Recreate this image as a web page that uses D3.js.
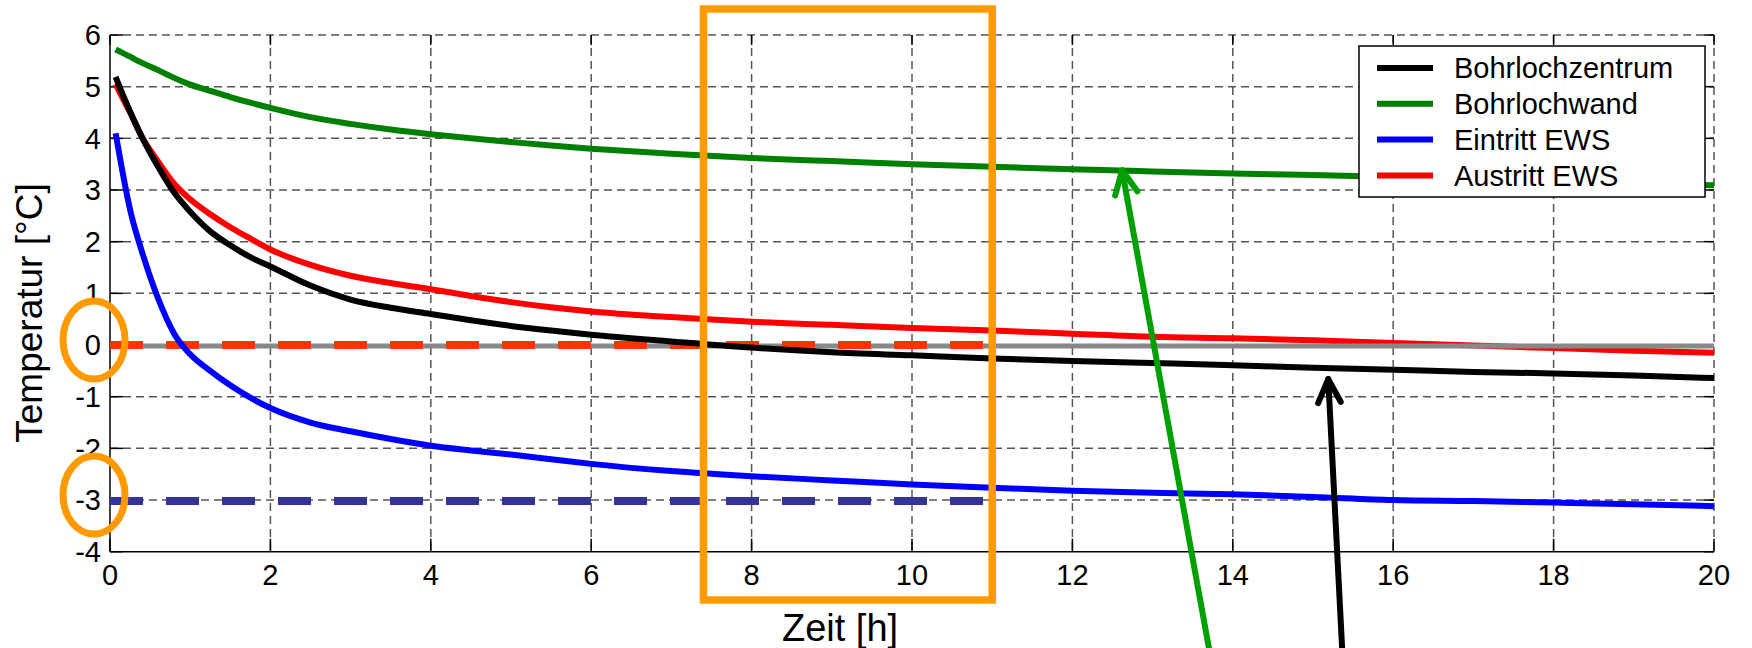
<!DOCTYPE html>
<meta charset="utf-8">
<style>
body { margin: 0; background: #fff; }
svg { display: block; font-family: "Liberation Sans", Arial, sans-serif; }
.grid line { stroke: #555; stroke-width: 1.5; stroke-dasharray: 8,5; }
.tick-label { font-size: 29px; fill: #000; }
</style>
<svg width="1752" height="648"></svg>
<script src="https://cdn.jsdelivr.net/npm/d3@7"></script>
<script>

// time in hours
var hours = [0.07, 0.15, 0.25, 0.4, 0.6, 0.8, 1, 1.25, 1.5, 1.75, 2, 2.5, 3, 3.5, 4, 4.5, 5, 5.5, 6,
             7, 8, 9, 10, 11, 12, 13, 14, 15, 16, 17, 18, 19, 20];

var bohrlochzentrum = [5.19, 4.88, 4.52, 4.02, 3.45, 2.95, 2.58, 2.2, 1.93, 1.7, 1.52, 1.15, 0.88, 0.72, 0.6, 0.48, 0.37, 0.28, 0.2,
                       0.07, -0.05, -0.14, -0.2, -0.26, -0.31, -0.35, -0.39, -0.44, -0.48, -0.52, -0.55, -0.59, -0.64];
var bohrlochwand = [5.72, 5.66, 5.58, 5.46, 5.32, 5.17, 5.04, 4.92, 4.8, 4.69, 4.59, 4.41, 4.28, 4.17, 4.08, 4.0, 3.93, 3.86, 3.8,
                    3.7, 3.62, 3.56, 3.5, 3.45, 3.4, 3.36, 3.32, 3.29, 3.25, 3.22, 3.18, 3.14, 3.09];
var eintritt = [4.1, 3.4, 2.62, 1.8, 0.9, 0.22, -0.18, -0.5, -0.78, -1.02, -1.22, -1.5, -1.67, -1.82, -1.95, -2.04, -2.12, -2.21, -2.3,
                -2.44, -2.54, -2.62, -2.7, -2.76, -2.82, -2.86, -2.89, -2.94, -3.0, -3.02, -3.05, -3.08, -3.12];
var austritt = [5.05, 4.8, 4.5, 4.02, 3.55, 3.12, 2.82, 2.53, 2.28, 2.06, 1.85, 1.55, 1.34, 1.2, 1.08, 0.95, 0.83, 0.73, 0.65,
                0.54, 0.45, 0.39, 0.33, 0.28, 0.22, 0.16, 0.13, 0.09, 0.04, -0.01, -0.06, -0.11, -0.15];

var seriesNames = ["Bohrlochzentrum", "Bohrlochwand", "Eintritt EWS", "Austritt EWS"];
var seriesColors = ["#000000", "#008000", "#0000ff", "#ff0000"];
var seriesValues = [bohrlochzentrum, bohrlochwand, eintritt, austritt];

var xTicks = [0, 2, 4, 6, 8, 10, 12, 14, 16, 18, 20];
var yTicks = [-4, -3, -2, -1, 0, 1, 2, 3, 4, 5, 6];

// marked limits (0 °C and -3 °C) and the marked time window
var limitRed = 0, limitBlue = -3, limitEnd = 10.9;
var windowStart = 7.4, windowEnd = 11.0;

var svg = d3.select("svg");

var x = d3.scaleLinear().domain([0, 20]).range([110, 1714]);
var y = d3.scaleLinear().domain([-4, 6]).range([551.7, 35]);

// grid (dashed, also forms top and right border)
var grid = svg.append("g").attr("class", "grid");
grid.selectAll(".gx").data(xTicks.slice(1)).enter().append("line")
    .attr("x1", function(d) { return x(d); }).attr("x2", function(d) { return x(d); })
    .attr("y1", y(6)).attr("y2", y(-4));
grid.selectAll(".gy").data(yTicks.slice(1)).enter().append("line")
    .attr("x1", x(0)).attr("x2", x(20))
    .attr("y1", function(d) { return y(d); }).attr("y2", function(d) { return y(d); });

// axes: solid left and bottom, ticks inward on all sides
var ax = svg.append("g").attr("stroke", "#000").attr("stroke-width", 1.5);
ax.append("line").attr("x1", x(0)).attr("x2", x(0)).attr("y1", y(6)).attr("y2", y(-4));
ax.append("line").attr("x1", x(0)).attr("x2", x(20)).attr("y1", y(-4)).attr("y2", y(-4));
xTicks.forEach(function(t) {
  ax.append("line").attr("x1", x(t)).attr("x2", x(t)).attr("y1", y(-4)).attr("y2", y(-4) - 13);
  ax.append("line").attr("x1", x(t)).attr("x2", x(t)).attr("y1", y(6)).attr("y2", y(6) + 10);
});
yTicks.forEach(function(v) {
  ax.append("line").attr("x1", x(0)).attr("x2", x(0) + 13).attr("y1", y(v)).attr("y2", y(v));
  ax.append("line").attr("x1", x(20)).attr("x2", x(20) - 10).attr("y1", y(v)).attr("y2", y(v));
});

svg.append("g").selectAll("text").data(xTicks).enter().append("text")
    .attr("class", "tick-label")
    .attr("x", function(d) { return x(d); })
    .attr("y", 585)
    .attr("text-anchor", "middle")
    .text(function(d) { return d; });
svg.append("g").selectAll("text").data(yTicks).enter().append("text")
    .attr("class", "tick-label")
    .attr("x", 101)
    .attr("y", function(d) { return y(d); })
    .attr("dy", "0.36em")
    .attr("text-anchor", "end")
    .text(function(d) { return d; });

svg.append("text")
    .attr("x", 840).attr("y", 641)
    .attr("text-anchor", "middle")
    .attr("font-size", 38)
    .text("Zeit [h]");
svg.append("text")
    .attr("transform", "translate(42,313) rotate(-90)")
    .attr("text-anchor", "middle")
    .attr("font-size", 37)
    .text("Temperatur [°C]");

var line = d3.line().curve(d3.curveMonotoneX)
    .x(function(d, i) { return x(hours[i]); })
    .y(function(d) { return y(d); });

function drawSeries(k) {
  svg.append("path")
      .datum(seriesValues[k])
      .attr("fill", "none")
      .attr("stroke", seriesColors[k])
      .attr("stroke-width", 6)
      .attr("stroke-linejoin", "round")
      .attr("d", line);
}

drawSeries(3);

// zero line
svg.append("line")
    .attr("x1", x(0)).attr("x2", x(20))
    .attr("y1", y(0) + 1).attr("y2", y(0) + 1)
    .attr("stroke", "#888").attr("stroke-width", 5);

// dashed limits
svg.append("line")
    .attr("x1", x(0)).attr("x2", x(limitEnd))
    .attr("y1", y(limitRed)).attr("y2", y(limitRed))
    .attr("stroke", "#ff3300").attr("stroke-width", 8).attr("stroke-dasharray", "33,23");
svg.append("line")
    .attr("x1", x(0)).attr("x2", x(limitEnd))
    .attr("y1", y(limitBlue) + 1).attr("y2", y(limitBlue) + 1)
    .attr("stroke", "#333399").attr("stroke-width", 8).attr("stroke-dasharray", "33,23");

drawSeries(0);
drawSeries(1);
drawSeries(2);

// legend
var lg = svg.append("g").attr("transform", "translate(1359,46)");
lg.append("rect").attr("width", 346).attr("height", 151)
    .attr("fill", "#fff").attr("stroke", "#000").attr("stroke-width", 1.5);
seriesNames.forEach(function(name, i) {
  var ry = 22 + i * 35.8;
  lg.append("line").attr("x1", 18).attr("x2", 74).attr("y1", ry).attr("y2", ry)
      .attr("stroke", seriesColors[i]).attr("stroke-width", 6);
  lg.append("text").attr("x", 95).attr("y", ry).attr("dy", "0.36em")
      .attr("font-size", 29).text(name);
});

// orange annotations
svg.append("rect")
    .attr("x", x(windowStart)).attr("y", 9)
    .attr("width", x(windowEnd) - x(windowStart)).attr("height", 591)
    .attr("fill", "none").attr("stroke", "#ff9900").attr("stroke-width", 7.5);
[limitRed, limitBlue].forEach(function(v) {
  svg.append("ellipse")
      .attr("cx", 94).attr("cy", y(v) - 5)
      .attr("rx", 31).attr("ry", 39)
      .attr("fill", "none").attr("stroke", "#ff9900").attr("stroke-width", 7);
});

// arrows pointing at the curves
function arrow(x1, y1, x2, y2, color) {
  var g = svg.append("g").attr("stroke", color).attr("stroke-width", 6)
      .attr("fill", "none").attr("stroke-linecap", "round").attr("stroke-linejoin", "round");
  g.append("line").attr("x1", x1).attr("y1", y1).attr("x2", x2).attr("y2", y2);
  var a = Math.atan2(y2 - y1, x2 - x1), L = 26, w = 0.45;
  g.append("path").attr("d",
      "M" + (x2 - L * Math.cos(a - w)) + "," + (y2 - L * Math.sin(a - w)) +
      "L" + x2 + "," + y2 +
      "L" + (x2 - L * Math.cos(a + w)) + "," + (y2 - L * Math.sin(a + w)));
}
arrow(1212, 665, x(12.62), y(3.38), "#00a000");
arrow(1343, 665, x(15.19), y(-0.66), "#000");

</script>
